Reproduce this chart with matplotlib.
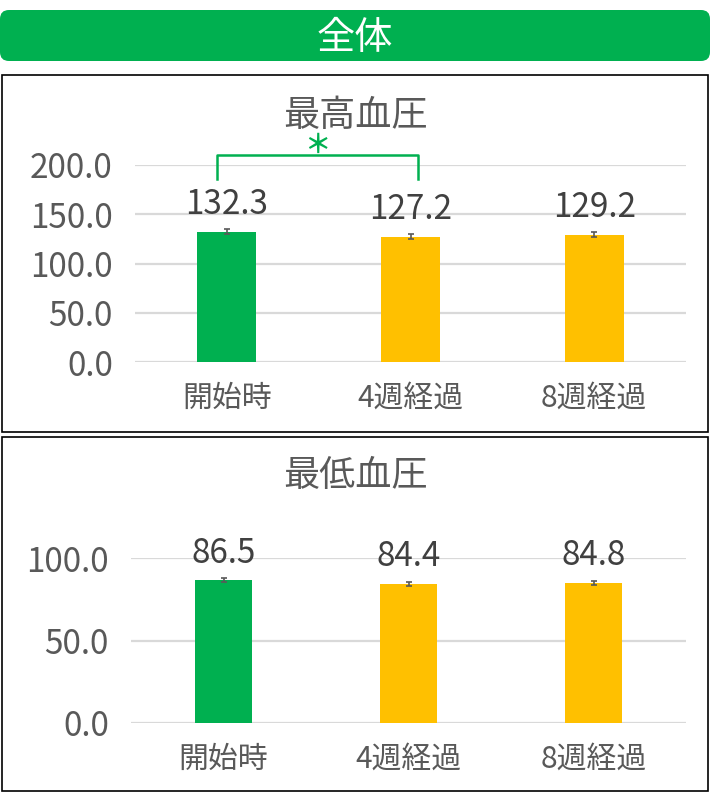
import numpy as np
import matplotlib.pyplot as plt
from matplotlib.patches import Rectangle, FancyBboxPatch

plt.rcParams['font.family'] = ['Noto Sans CJK JP', 'DejaVu Sans']

# data
categories = ["開始時", "4週経過", "8週経過"]
sys_values = [132.3, 127.2, 129.2]
sys_errors = [2.8, 2.8, 2.6]
dia_values = [86.5, 84.4, 84.8]
dia_errors = [1.2, 1.2, 1.2]
bar_colors = ["#00B050", "#FFC000", "#FFC000"]

GREEN = "#00B050"
TICK_COL = "#595959"
LABEL_COL = "#404040"
GRID_COL = "#D9D9D9"

W, H = 710, 793
fig = plt.figure(figsize=(W / 100, H / 100), dpi=100)


def px_rect(x0, y0, x1, y1):
    # pixel box (top-left origin) -> figure fraction [l, b, w, h]
    return [x0 / W, 1 - y1 / H, (x1 - x0) / W, (y1 - y0) / H]


# overlay axes for frames and header
bg = fig.add_axes([0, 0, 1, 1])
bg.set_xlim(0, W)
bg.set_ylim(H, 0)
bg.axis("off")
bg.add_patch(FancyBboxPatch((0, 10), W, 51, boxstyle="round,pad=0,rounding_size=9",
                            fc=GREEN, ec="none"))
bg.text(W / 2, 39, "全体", color="white", fontsize=27.5, ha="center", va="center")
bg.add_patch(Rectangle((1.5, 75), W - 3.5, 357, fill=False, ec="black", lw=1.2))
bg.add_patch(Rectangle((1.5, 437), W - 3.5, 354, fill=False, ec="black", lw=1.2))
bg.text(W / 2, 116, "最高血圧", color=TICK_COL, fontsize=26, ha="center", va="center")
bg.text(W / 2, 476, "最低血圧", color=TICK_COL, fontsize=26, ha="center", va="center")


def draw_panel(ax, values, errors, ymax, step, bar_w):
    x = np.arange(len(categories))
    ax.bar(x, values, width=bar_w, color=bar_colors, zorder=2)
    ax.errorbar(x, values, yerr=errors, fmt="none", ecolor=TICK_COL,
                elinewidth=1.2, capsize=2.5, capthick=1.2, zorder=3)
    ax.set_xlim(-0.5, len(categories) - 0.5)
    ax.set_ylim(0, ymax)
    ax.set_yticks(np.arange(0, ymax + 1, step))
    ax.yaxis.set_major_formatter(plt.FormatStrFormatter("%.1f"))
    ax.set_xticks(x)
    ax.set_xticklabels(categories)
    ax.tick_params(axis="both", length=0, colors=TICK_COL)
    ax.tick_params(axis="y", labelsize=24, pad=16)
    ax.tick_params(axis="x", labelsize=21.5, pad=15)
    ax.yaxis.grid(True, color=GRID_COL, lw=1.6, zorder=0)
    ax.set_axisbelow(True)
    for s in ax.spines.values():
        s.set_visible(False)
    for xi, v in zip(x, values):
        ax.annotate(f"{v:.1f}", (xi, v), xytext=(0, 7), textcoords="offset points",
                    ha="center", va="bottom", fontsize=24, color=LABEL_COL,
                    annotation_clip=False)


ax1 = fig.add_axes(px_rect(135, 165, 686, 362))
draw_panel(ax1, sys_values, sys_errors, 200, 50, 0.32)

# significance bracket between 開始時 and 4週経過
br_y, br_leg = 210, 186
ax1.plot([-0.055, -0.055, 1.04, 1.04], [br_leg, br_y, br_y, br_leg], color=GREEN,
         lw=1.8, clip_on=False, solid_joinstyle="round")
ax1.text(0.49, 220, "＊", color=GREEN, fontsize=19, fontweight="bold",
         ha="center", va="center", clip_on=False)

ax2 = fig.add_axes(px_rect(131, 558, 686, 723))
draw_panel(ax2, dia_values, dia_errors, 100, 50, 0.31)

fig.savefig("out.png", dpi=100)
